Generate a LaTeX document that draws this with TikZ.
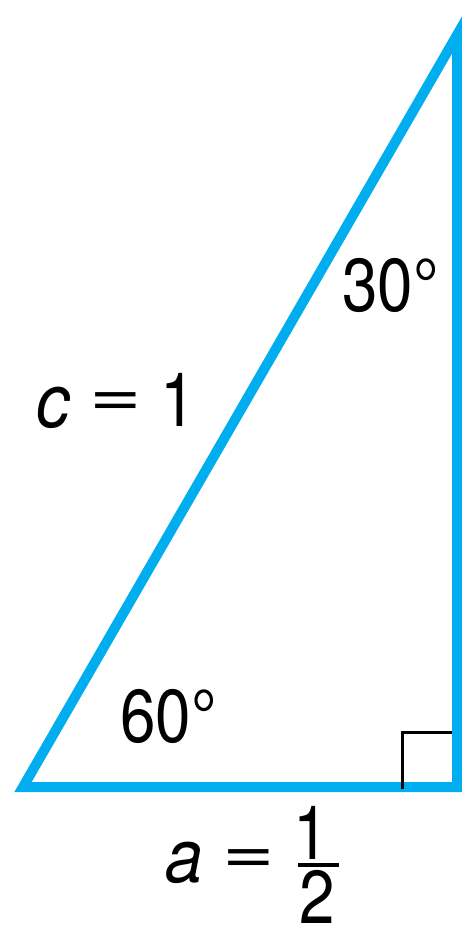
\documentclass[tikz,border=0pt]{standalone}
\usepackage{fontspec}
\setmainfont{TeX Gyre Heros}
\definecolor{triblue}{RGB}{0,174,239}
\newcommand{\lblsize}{\fontsize{75}{80}\selectfont}
\tikzset{
  lbl/.style={inner sep=0pt, outer sep=0pt, anchor=center, font=\lblsize, text=black},
  side/.style={draw=triblue, line width=10pt, line join=miter, miter limit=10},
  rightmark/.style={draw=black, line width=3pt, line cap=butt}
}
\begin{document}
\begin{tikzpicture}[x=1pt, y=-1pt]
\useasboundingbox (0,0) rectangle (462,927);
\coordinate (A) at (23,787);
\coordinate (B) at (457,787);
\coordinate (C) at (457,35);
\draw[side] (A) -- (B) -- (C) -- cycle;
\coordinate (R1) at (402,788.5);
\coordinate (R2) at (402,732);
\coordinate (R3) at (452,732);
\draw[rightmark] (R1) -- (R2) -- (R3);
% angle labels
\node[lbl] (t30) at (390.5,285) {\scalebox{0.85}[1]{30°}};
\node[lbl] (t60) at (168.5,716.5) {\scalebox{0.85}[1]{60°}};
% c = 1
\node[lbl] (cc) at (53,407.5) {\scalebox{0.9}[1]{\itshape c}};
\node[lbl] (ceq) at (116,405) {\scalebox{1.2}[0.85]{=}};
\node[lbl] (cone) at (178,400) {\scalebox{0.85}[1]{1}};
% a = 1/2
\node[lbl] (aa) at (184,863) {\scalebox{0.9}[1]{\itshape a}};
\node[lbl] (aeq) at (249,862) {\scalebox{1.2}[0.85]{=}};
\node[lbl] (num) at (311,832.5) {\scalebox{0.85}[1]{1}};
\node[lbl] (den) at (317.5,896.5) {\scalebox{0.85}[1]{2}};
\coordinate (barL) at (298,865);
\coordinate (barR) at (339,865);
\draw[black, line width=3.5pt] (barL) -- (barR);
\end{tikzpicture}
\end{document}
